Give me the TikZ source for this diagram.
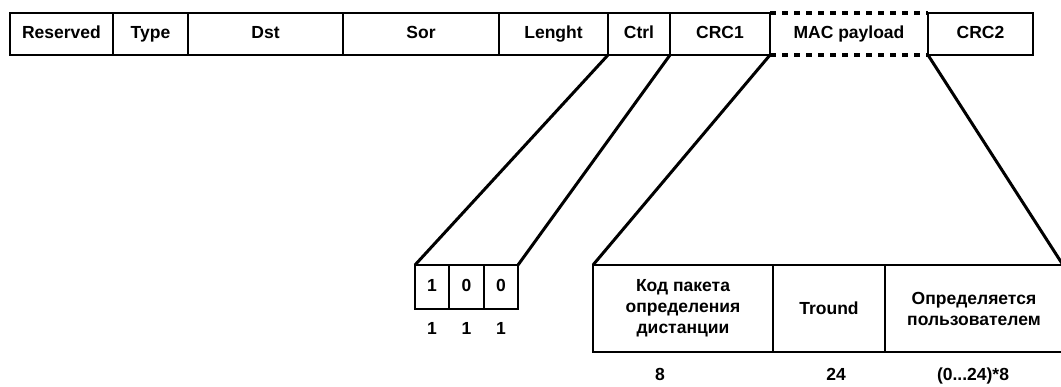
\documentclass[tikz,border=0pt]{standalone}
\usepackage{fontspec}
\setmainfont{Liberation Sans}
\usetikzlibrary{positioning}

\tikzset{
  field/.style={draw, line width=2.6pt, inner sep=0pt, outer sep=0pt,
    minimum height=42pt, text height=12.5pt, text depth=3.5pt,
    font=\bfseries\fontsize{17.5}{21}\selectfont},
  bitcell/.style={field, minimum height=44pt},
  subfield/.style={field, minimum height=87pt, align=center,
    text height=, text depth=},
  link/.style={line width=3pt},
  sizelabel/.style={inner sep=0pt, text height=12.5pt, text depth=3.5pt,
    font=\bfseries\fontsize{17.5}{21}\selectfont}
}

\begin{document}
\begin{tikzpicture}[x=1pt, y=-1pt]
  \useasboundingbox (0,0) rectangle (1061,386);
  % Frame fields
  \node[field, minimum width=103pt, anchor=north west] (reserved) at (10,13) {Reserved};
  \node[field, minimum width=75pt, right=0pt of reserved] (type) {Type};
  \node[field, minimum width=155pt, right=0pt of type] (dst) {Dst};
  \node[field, minimum width=156pt, right=0pt of dst] (sor) {Sor};
  \node[field, minimum width=109pt, right=0pt of sor] (lenght) {Lenght};
  \node[field, minimum width=62pt, right=0pt of lenght] (ctrl) {Ctrl};
  \node[field, minimum width=100pt, right=0pt of ctrl] (crc1) {CRC1};
  \node[field, draw=none, minimum width=158pt, right=0pt of crc1] (mac) {MAC payload};
  \node[field, minimum width=105pt, right=0pt of mac] (crc2) {CRC2};
  \draw[line width=3.2pt, dash pattern=on 6pt off 6pt] (mac.north west) -- (mac.north east);
  \draw[line width=3.2pt, dash pattern=on 6pt off 6pt] (mac.south west) -- (mac.south east);

  % Ctrl bits
  \node[bitcell, minimum width=34pt, anchor=north west] (bitA) at (415,265) {1};
  \node[bitcell, minimum width=35pt, right=0pt of bitA] (bitB) {0};
  \node[bitcell, minimum width=34pt, right=0pt of bitB] (bitC) {0};
  \node[sizelabel, below=13pt of bitA] (sizeA) {1};
  \node[sizelabel, below=13pt of bitB] (sizeB) {1};
  \node[sizelabel, below=13pt of bitC] (sizeC) {1};

  % MAC payload fields
  \node[subfield, minimum width=180pt, anchor=north west] (code) at (593,265)
    {Код пакета\\определения\\дистанции};
  \node[subfield, minimum width=112pt, right=0pt of code] (tround) {Tround};
  \node[subfield, minimum width=178pt, right=0pt of tround] (user)
    {Определяется\\пользователем};
  \node[sizelabel] (sizecode) at (660,376) {8};
  \node[sizelabel] (sizetround) at (836,376) {24};
  \node[sizelabel] (sizeuser) at (973,376) {(0...24)*8};

  % Expansion lines
  \draw[link] (lenght.south east) -- (bitA.north west);
  \draw[link] (ctrl.south east) -- (bitC.north east);
  \draw[link] (crc1.south east) -- (code.north west);
  \draw[link] (crc2.south west) -- (user.north east);
\end{tikzpicture}
\end{document}
